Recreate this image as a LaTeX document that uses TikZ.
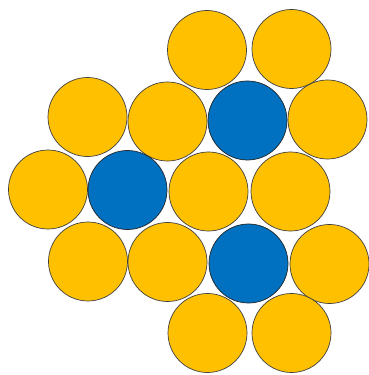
\documentclass[tikz,border=0pt]{standalone}
\usepackage{tikz}

\definecolor{gold}{HTML}{FFC000}
\definecolor{cobalt}{HTML}{0070C0}

\begin{document}
\begin{tikzpicture}[x=0.03cm, y=-0.03cm,
	ball/.style={circle, draw=black!75, line width=0.6pt, fill=gold, inner sep=0pt, minimum size=2.37cm},
	blueball/.style={ball, draw=black!85, fill=cobalt}]
	\useasboundingbox (0,0) rectangle (368,375);
	% yellow spheres
	\foreach \x/\y [count=\i] in {207/50, 291.5/49, 87.5/117, 167.5/121.5, 327.5/119.5, 48/189.5, 208.5/191.5, 290.5/191.5, 88/261.5, 167.5/262, 329.5/264, 207.5/333, 291.5/333}
		\node[ball] (y\i) at (\x,\y) {};
	% blue spheres
	\foreach \x/\y [count=\i] in {247.5/120.5, 127.5/190, 248.5/263.5}
		\node[blueball] (b\i) at (\x,\y) {};
\end{tikzpicture}
\end{document}
